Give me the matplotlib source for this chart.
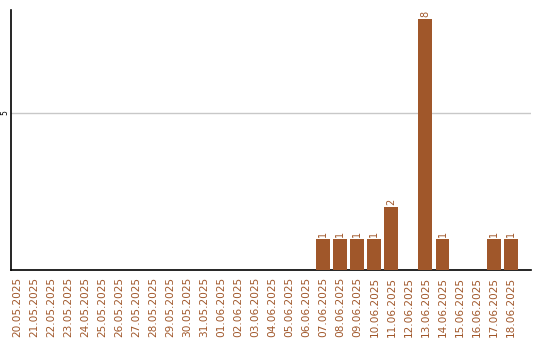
import matplotlib
matplotlib.use("Agg")
import matplotlib.pyplot as plt

dates = ["20.05.2025", "21.05.2025", "22.05.2025", "23.05.2025", "24.05.2025", "25.05.2025",
         "26.05.2025", "27.05.2025", "28.05.2025", "29.05.2025", "30.05.2025", "31.05.2025",
         "01.06.2025", "02.06.2025", "03.06.2025", "04.06.2025", "05.06.2025", "06.06.2025",
         "07.06.2025", "08.06.2025", "09.06.2025", "10.06.2025", "11.06.2025", "12.06.2025",
         "13.06.2025", "14.06.2025", "15.06.2025", "16.06.2025", "17.06.2025", "18.06.2025"]
counts = [0, 0, 0, 0, 0, 0, 0, 0, 0, 0, 0, 0, 0, 0, 0, 0, 0, 0,
          1, 1, 1, 1, 2, 0, 8, 1, 0, 0, 1, 1]

color = "#A0572A"
fig = plt.figure(figsize=(5.4, 3.4), dpi=100)
ax = fig.add_axes([11/540, 70/340, 520/540, 260/340])
x = list(range(len(dates)))
ax.bar(x, counts, width=0.82, color=color, zorder=3)
for xi, v in zip(x, counts):
    if v > 0:
        ax.text(xi, v + 0.06, str(v), rotation=90, ha="center", va="bottom",
                fontsize=7, color=color)
ax.set_xlim(-0.35, 30.2)
ax.set_ylim(0, 8.28)
ax.set_yticks([5])
ax.set_yticklabels(["5"], rotation=90, va="center", fontsize=5.5)
ax.set_xticks(x)
ax.set_xticklabels(dates, rotation=90, fontsize=7.6, color=color)
ax.tick_params(axis="both", length=0)
ax.tick_params(axis="x", pad=5)
ax.tick_params(axis="y", pad=1)
ax.grid(axis="y", color="#c8c8c8", linewidth=1, zorder=0)
for s in ["top", "right"]:
    ax.spines[s].set_visible(False)
for s in ["left", "bottom"]:
    ax.spines[s].set_color("black")
    ax.spines[s].set_linewidth(1.2)
fig.savefig("out.png", dpi=100)
